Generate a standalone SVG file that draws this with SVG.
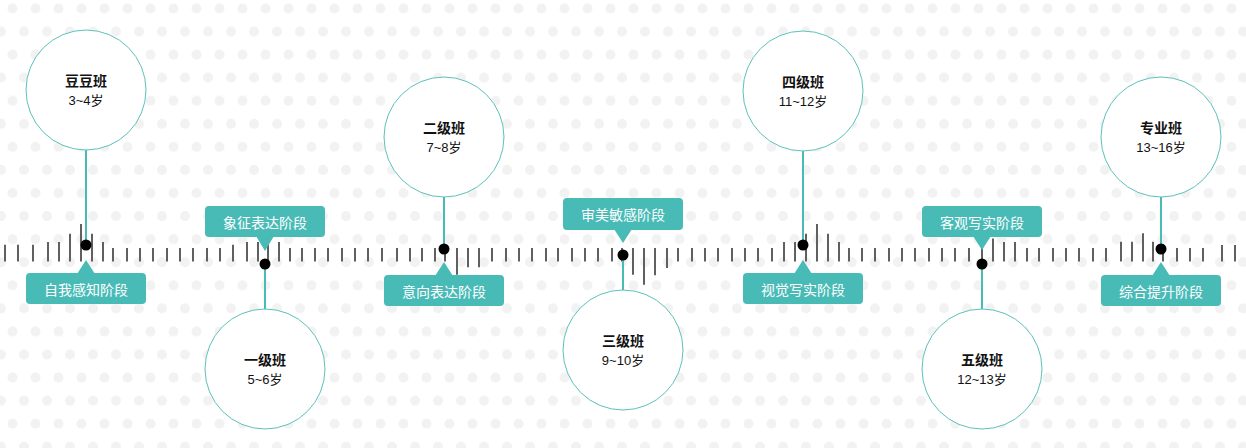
<svg xmlns="http://www.w3.org/2000/svg" width="1246" height="448" viewBox="0 0 1246 448">
<defs>
<pattern id="dots" patternUnits="userSpaceOnUse" x="-5" y="0" width="23" height="46.14">
<circle cx="17.5" cy="8.5" r="5" fill="#f2f2f2"/>
<circle cx="6" cy="31.57" r="5" fill="#f2f2f2"/>
</pattern>
</defs>
<style>
.tick{stroke:#606060;stroke-width:2;fill:none}
.conn{stroke:#48bbb7;stroke-width:2;fill:none}
.node circle.c{fill:#fff;stroke:#5cc1bc;stroke-width:1}
.title{font-family:"Noto Sans CJK SC",sans-serif;font-size:14px;font-weight:bold;fill:#111;text-anchor:middle}
.age{font-family:"Liberation Sans","Noto Sans CJK SC",sans-serif;font-size:13px;fill:#111;text-anchor:middle}
.tag{fill:#48bbb7}
.tagtext{font-family:"Noto Sans CJK SC",sans-serif;font-size:14px;fill:#fff;text-anchor:middle}
.dot{fill:#000}
</style>
<rect width="1246" height="448" fill="#fff"/>
<rect width="1246" height="448" fill="url(#dots)"/>
<g id="ruler">
<path class="tick" d="M5 244.7V261.5M18 244.7V261.5M33 244.7V261.5M48 242V261.5M59 242V261.5M70 233.7V261.5M81 224V261.5M92 233.7V261.5M103 242V261.5M113 248V261.5M127 248V261.5M140 248V261.5M153 248V261.5M167 248V261.5M180 248V261.5M193 248V261.5M207 248V261.5M220 248V261.5M233 244.7V261.5M247 242V261.5M258 242V261.5M268 242V261.5M279 242V261.5M290 248V261.5M302 248V261.5M315 248V261.5M328 248V261.5M342 248V261.5M355 248V261.5M368 248V261.5M382 248V261.5M397 248V261.5M410 248V261.5M422 248V261.5M435 248V261.5M445 244V261.5M457 248V274.7M468 248V267.3M479 248V267.3M492 248V261.5M506 248V261.5M519 248V261.5M532 248V261.5M546 248V261.5M558 248V261.5M572 248V261.5M585 248V261.5M598 248V261.5M612 248V261.5M622 248V261.5M633 248V274.7M644 248V284.7M655 248V275.3M667 248V268M678 248V261.5M692 248V261.5M705 248V261.5M718 248V261.5M732 248V261.5M745 248V261.5M758 248V261.5M772 248V261.5M784 242V261.5M795 242V261.5M806 233.7V261.5M817 224V261.5M828 233.7V261.5M839 242V261.5M849 248V261.5M862 248V261.5M875 248V261.5M889 248V261.5M902 248V261.5M915 248V261.5M929 248V261.5M942 248V261.5M955 248V261.5M969 248V261.5M982 242V261.5M993 238.5V261.5M1004 242V261.5M1015 242V261.5M1027 248V261.5M1039 248V261.5M1053 248V261.5M1066 248V261.5M1079 248V261.5M1093 248V261.5M1106 248V261.5M1121 241.7V261.5M1132 241.7V261.5M1143 233.3V261.5M1153 241.7V261.5M1163 244V261.5M1177 248V261.5M1190 248V261.5M1203 248V261.5M1222 245V261.5M1235 245V261.5"/>
</g>
<g id="connectors">
<path class="conn" d="M86 150V245"/>
<path class="conn" d="M265 264V309"/>
<path class="conn" d="M444 197V249"/>
<path class="conn" d="M623 255V290"/>
<path class="conn" d="M803 151V245"/>
<path class="conn" d="M982 264V309"/>
<path class="conn" d="M1161 197V249"/>
</g>
<g id="node-doudou" class="node">
<circle class="c" cx="86" cy="90" r="60"/>
<text class="title" x="86" y="86">豆豆班</text>
<text class="age" x="86" y="104.5">3~4岁</text>
<rect class="tag" x="26" y="273" width="120" height="31" rx="4"/>
<polygon class="tag" points="77,274 86,260 95,274"/>
<text class="tagtext" x="86" y="294.5">自我感知阶段</text>
<circle class="dot" cx="86" cy="245" r="5.5"/>
</g>
<g id="node-1" class="node">
<circle class="c" cx="265" cy="369" r="60"/>
<text class="title" x="265" y="365">一级班</text>
<text class="age" x="265" y="383.5">5~6岁</text>
<rect class="tag" x="205" y="206" width="120" height="31" rx="4"/>
<polygon class="tag" points="256,236 265,251 274,236"/>
<text class="tagtext" x="265" y="227.5">象征表达阶段</text>
<circle class="dot" cx="265" cy="264" r="5.5"/>
</g>
<g id="node-2" class="node">
<circle class="c" cx="444" cy="137" r="60"/>
<text class="title" x="444" y="133">二级班</text>
<text class="age" x="444" y="151.5">7~8岁</text>
<rect class="tag" x="384" y="275" width="120" height="31" rx="4"/>
<polygon class="tag" points="435,276 444,262 453,276"/>
<text class="tagtext" x="444" y="296.5">意向表达阶段</text>
<circle class="dot" cx="444" cy="249" r="5.5"/>
</g>
<g id="node-3" class="node">
<circle class="c" cx="623" cy="350" r="60"/>
<text class="title" x="623" y="346">三级班</text>
<text class="age" x="623" y="364.5">9~10岁</text>
<rect class="tag" x="563" y="198" width="120" height="32" rx="4"/>
<polygon class="tag" points="614,229 623,243 632,229"/>
<text class="tagtext" x="623" y="219.5">审美敏感阶段</text>
<circle class="dot" cx="623" cy="255" r="5.5"/>
</g>
<g id="node-4" class="node">
<circle class="c" cx="803" cy="91" r="60"/>
<text class="title" x="803" y="87">四级班</text>
<text class="age" x="803" y="105.5">11~12岁</text>
<rect class="tag" x="743" y="273" width="120" height="31" rx="4"/>
<polygon class="tag" points="794,274 803,260 812,274"/>
<text class="tagtext" x="803" y="294.5">视觉写实阶段</text>
<circle class="dot" cx="803" cy="245" r="5.5"/>
</g>
<g id="node-5" class="node">
<circle class="c" cx="982" cy="369" r="60"/>
<text class="title" x="982" y="365">五级班</text>
<text class="age" x="982" y="383.5">12~13岁</text>
<rect class="tag" x="922" y="206" width="120" height="31" rx="4"/>
<polygon class="tag" points="973,236 982,250 991,236"/>
<text class="tagtext" x="982" y="227.5">客观写实阶段</text>
<circle class="dot" cx="982" cy="264" r="5.5"/>
</g>
<g id="node-pro" class="node">
<circle class="c" cx="1161" cy="137" r="60"/>
<text class="title" x="1161" y="133">专业班</text>
<text class="age" x="1161" y="151.5">13~16岁</text>
<rect class="tag" x="1101" y="275" width="120" height="31" rx="4"/>
<polygon class="tag" points="1152,276 1161,262 1170,276"/>
<text class="tagtext" x="1161" y="296.5">综合提升阶段</text>
<circle class="dot" cx="1161" cy="249" r="5.5"/>
</g>
</svg>
